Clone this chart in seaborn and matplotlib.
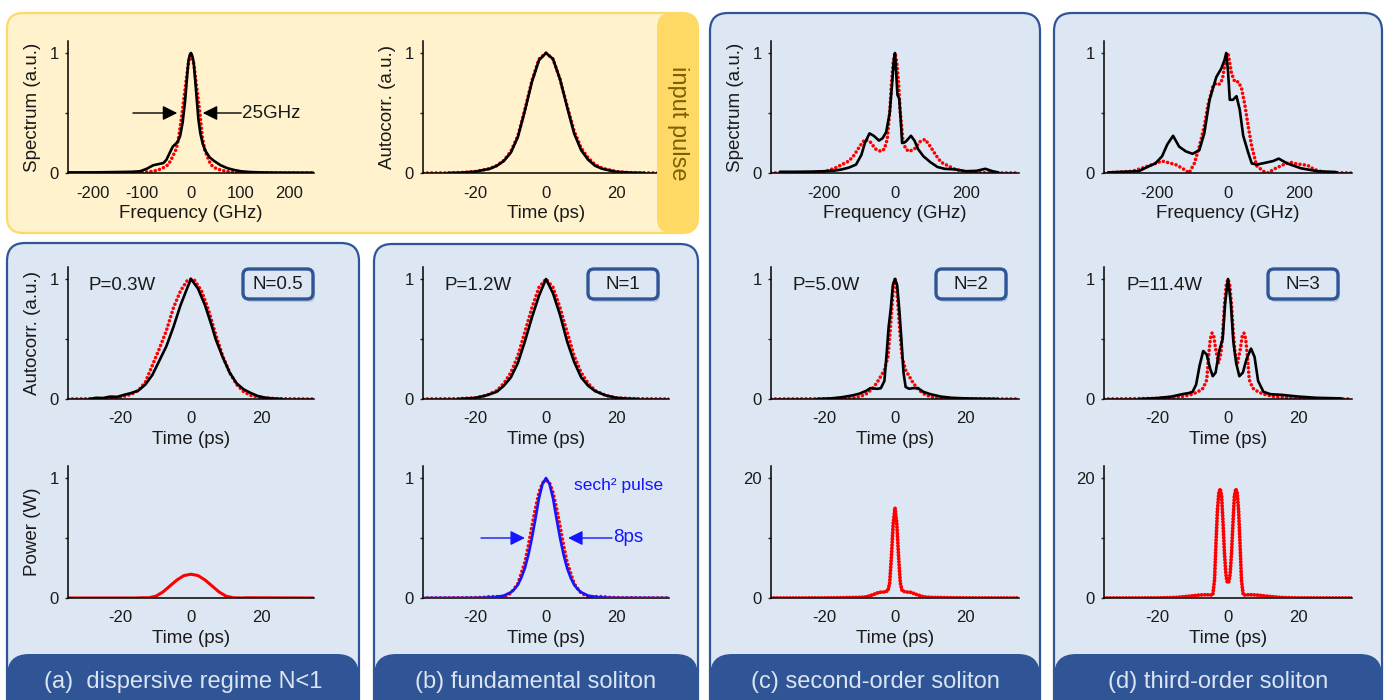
import matplotlib
matplotlib.use('Agg')
import matplotlib.pyplot as plt
from matplotlib.patches import FancyBboxPatch
import seaborn as sns

W, H = 1387, 700

# ---------------- data ----------------
# input pulse spectrum (GHz): measured (black) / simulated (red)
in_spec_f_exp = [-250, -200, -150, -120, -104, -90, -77, -65, -56, -50, -43, -37, -32, -27, -22, -17, -12, -8, -5, -2,
                 0, 3, 5.5, 9, 12, 15, 19, 24, 30, 38, 47, 60, 74, 88, 102, 120, 143, 180, 250]
in_spec_exp = [0.005, 0.005, 0.008, 0.01, 0.014, 0.035, 0.064, 0.075, 0.083, 0.11, 0.17, 0.22, 0.24, 0.26, 0.31, 0.42,
               0.6, 0.8, 0.94, 0.99, 1.0, 0.97, 0.92, 0.75, 0.6, 0.45, 0.33, 0.24, 0.18, 0.13, 0.1, 0.065, 0.04, 0.025,
               0.014, 0.008, 0.005, 0.003, 0.002]
in_spec_f_sim = [-250, -150, -100, -77, -60, -46, -38, -30, -25, -18, -12, -6, 0, 6, 12, 18, 23, 28, 33, 40, 50, 60, 74,
                 100, 150, 250]
in_spec_sim = [0, 0.001, 0.005, 0.014, 0.035, 0.07, 0.13, 0.2, 0.3, 0.5, 0.7, 0.9, 1.0, 0.9, 0.7, 0.5, 0.3, 0.19, 0.14,
               0.07, 0.04, 0.025, 0.012, 0.004, 0.001, 0]

# input pulse autocorrelation (ps)
in_ac_t_exp = [-28, -24, -20, -16, -14, -12, -10, -8, -6, -4, -2, 0, 2, 4, 6, 8, 10, 12, 14, 16, 20, 24, 28]
in_ac_exp = [0, 0.003, 0.012, 0.035, 0.06, 0.1, 0.17, 0.3, 0.52, 0.76, 0.94, 1.0, 0.95, 0.78, 0.55, 0.33, 0.19, 0.11,
             0.06, 0.035, 0.01, 0.003, 0]
in_ac_t_sim = [-35, -28, -24, -20, -16, -14, -12, -10, -8, -6, -4, -2, 0, 2, 4, 6, 8, 10, 12, 14, 16, 20, 24, 28, 35]
in_ac_sim = [0, 0.001, 0.004, 0.013, 0.037, 0.062, 0.105, 0.18, 0.31, 0.53, 0.77, 0.95, 1.0, 0.95, 0.78, 0.56, 0.35,
             0.21, 0.125, 0.07, 0.04, 0.012, 0.003, 0.001, 0]

# (a) N=0.5
a_ac_t_exp = [-29, -27, -25, -23, -21, -19, -17, -15, -13, -11, -9, -7, -5, -3, -1, 0, 1, 2, 4, 6, 7, 9, 11, 13, 15,
              17, 19, 21, 23, 26]
a_ac_exp = [0, 0.01, 0.008, 0.02, 0.018, 0.035, 0.05, 0.07, 0.12, 0.2, 0.32, 0.44, 0.6, 0.78, 0.93, 1.0, 0.96, 0.92,
            0.78, 0.6, 0.5, 0.35, 0.22, 0.13, 0.08, 0.05, 0.025, 0.012, 0.005, 0]
a_ac_t_sim = [-35, -25, -20, -17, -15, -13, -11, -9, -7, -5, -3, -1, 0, 1, 3, 5, 7, 9, 11, 13, 15, 17, 20, 25, 35]
a_ac_sim = [0, 0.003, 0.015, 0.04, 0.07, 0.14, 0.28, 0.42, 0.57, 0.76, 0.9, 0.99, 1.0, 0.99, 0.9, 0.74, 0.54, 0.36,
            0.22, 0.12, 0.06, 0.03, 0.01, 0.002, 0]
a_pw_t = [-35, -16, -14, -12, -10, -8, -6, -4, -2, 0, 2, 4, 6, 8, 10, 12, 14, 16, 35]
a_pw = [0, 0, 0.002, 0.002, 0.015, 0.05, 0.1, 0.15, 0.187, 0.198, 0.187, 0.15, 0.1, 0.05, 0.015, 0.002, 0, 0.002, 0]

# (b) N=1
b_ac_t_exp = [-25, -22, -20, -17, -14, -12, -10, -8, -6, -4, -2, 0, 2, 4, 6, 8, 10, 12, 14, 17, 20, 23, 26]
b_ac_exp = [0, 0.005, 0.01, 0.03, 0.06, 0.11, 0.18, 0.3, 0.48, 0.68, 0.86, 1.0, 0.88, 0.7, 0.48, 0.31, 0.18, 0.11,
            0.065, 0.03, 0.01, 0.003, 0]
b_ac_t_sim = [-35, -25, -20, -17, -14, -12, -10, -8, -6, -4, -2, 0, 2, 4, 6, 8, 10, 12, 14, 17, 20, 25, 35]
b_ac_sim = [0, 0.003, 0.01, 0.03, 0.07, 0.13, 0.22, 0.36, 0.56, 0.76, 0.93, 1.0, 0.93, 0.76, 0.56, 0.36, 0.22, 0.13,
            0.07, 0.03, 0.01, 0.003, 0]
b_pw_t_sech = [-35, -20, -15, -12, -10, -9, -8, -7, -6, -5, -4, -3, -2, -1, 0, 1, 2, 3, 4, 5, 6, 7, 8, 9, 10, 12, 15,
               20, 35]
b_pw_sech = [0, 0.001, 0.005, 0.02, 0.048, 0.073, 0.11, 0.17, 0.25, 0.36, 0.5, 0.66, 0.83, 0.95, 1.0, 0.95, 0.83, 0.66,
             0.5, 0.36, 0.25, 0.17, 0.11, 0.073, 0.048, 0.02, 0.005, 0.001, 0]
b_pw_t_sim = [-35, -22, -18, -16, -14, -12, -10, -8, -6, -5, -4, -3, -2, -1, 0, 1, 2, 3, 4, 5, 6, 8, 10, 12, 14, 16,
              18, 22, 35]
b_pw_sim = [0, 0.002, 0.005, 0.012, 0.012, 0.01, 0.04, 0.12, 0.3, 0.44, 0.6, 0.75, 0.88, 0.96, 0.98, 0.96, 0.88, 0.75,
            0.6, 0.44, 0.3, 0.12, 0.04, 0.01, 0.012, 0.012, 0.005, 0.002, 0]

# (c) N=2
c_spec_f_exp = [-325, -280, -230, -200, -170, -150, -130, -110, -95, -85, -72, -60, -45, -35, -25, -15, -8, -3, 0, 3,
                7, 12, 16, 20, 30, 45, 55, 65, 80, 100, 120, 140, 170, 200, 230, 255, 275, 292]
c_spec_exp = [0.01, 0.01, 0.012, 0.015, 0.02, 0.03, 0.045, 0.07, 0.15, 0.25, 0.33, 0.31, 0.27, 0.29, 0.34, 0.5, 0.75,
              0.95, 1.0, 0.85, 0.65, 0.62, 0.45, 0.25, 0.26, 0.31, 0.27, 0.2, 0.14, 0.09, 0.05, 0.035, 0.03, 0.015,
              0.018, 0.035, 0.015, 0.005]
c_spec_f_sim = [-350, -250, -200, -170, -150, -130, -115, -100, -85, -70, -55, -40, -30, -22, -15, -10, -5, 0, 5, 10,
                15, 22, 30, 40, 55, 70, 85, 100, 115, 130, 150, 170, 200, 250, 350]
c_spec_sim = [0, 0.002, 0.01, 0.04, 0.07, 0.1, 0.15, 0.22, 0.28, 0.26, 0.2, 0.18, 0.2, 0.28, 0.5, 0.75, 0.92, 1.0,
              0.92, 0.75, 0.5, 0.28, 0.2, 0.18, 0.2, 0.26, 0.28, 0.22, 0.15, 0.09, 0.06, 0.03, 0.01, 0.002, 0]
c_ac_t_exp = [-22, -18, -15, -12, -10, -8, -7, -5, -4, -3, -2.3, -1.8, -1.2, -0.6, 0, 0.6, 1.2, 1.8, 2.4, 3, 4, 5,
              6.5, 8, 10, 13, 16, 20, 25, 29]
c_ac_exp = [0, 0.005, 0.015, 0.03, 0.045, 0.07, 0.09, 0.085, 0.09, 0.15, 0.4, 0.6, 0.75, 0.95, 1.0, 0.95, 0.75, 0.5,
            0.22, 0.1, 0.085, 0.09, 0.09, 0.06, 0.04, 0.02, 0.01, 0.005, 0.002, 0]
c_ac_t_sim = [-35, -20, -14, -11, -9, -8, -7, -6, -5, -4, -3, -2, -1.4, -0.8, -0.3, 0, 0.3, 0.8, 1.4, 2, 3, 4, 5, 6, 7,
              8, 9, 11, 14, 20, 35]
c_ac_sim = [0, 0.002, 0.005, 0.012, 0.03, 0.045, 0.07, 0.1, 0.14, 0.19, 0.24, 0.35, 0.55, 0.8, 0.97, 1.0, 0.97, 0.8,
            0.55, 0.35, 0.24, 0.19, 0.14, 0.1, 0.07, 0.045, 0.03, 0.012, 0.005, 0.002, 0]
c_pw_t = [-35, -20, -15, -10, -8, -6, -4.5, -3, -2, -1.5, -1, -0.5, 0, 0.5, 1, 1.5, 2, 3, 4.5, 6, 8, 10, 15, 20, 35]
c_pw = [0, 0.02, 0.05, 0.1, 0.2, 0.6, 0.95, 1.0, 1.2, 2.5, 7, 12.5, 15.0, 12.5, 7, 2.5, 1.2, 1.0, 0.95, 0.6, 0.2, 0.1,
        0.05, 0.02, 0]

# (d) N=3
d_spec_f_exp = [-338, -252, -224, -205, -186, -171, -155, -138, -119, -100, -81, -67, -52, -33, -19, -10, -5, 0, 5, 14,
                24, 33, 43, 57, 67, 81, 105, 128, 143, 167, 205, 252, 305]
d_spec_exp = [0.005, 0.015, 0.055, 0.08, 0.14, 0.24, 0.31, 0.22, 0.18, 0.16, 0.19, 0.33, 0.61, 0.8, 0.87, 0.94, 1.0,
              0.85, 0.61, 0.61, 0.64, 0.53, 0.31, 0.17, 0.08, 0.07, 0.085, 0.1, 0.12, 0.08, 0.04, 0.015, 0.008]
d_spec_f_sim = [-350, -271, -243, -214, -186, -148, -129, -110, -95, -81, -67, -57, -43, -33, -24, -16, -5, 0, 10, 19,
                29, 38, 48, 57, 67, 81, 100, 114, 128, 157, 176, 195, 224, 243, 271, 350]
d_spec_sim = [0, 0.014, 0.04, 0.07, 0.1, 0.07, 0.04, 0.0, 0.08, 0.22, 0.39, 0.56, 0.72, 0.75, 0.74, 0.78, 0.97, 1.0,
              0.83, 0.76, 0.76, 0.71, 0.56, 0.39, 0.22, 0.06, 0.014, 0.0, 0.03, 0.07, 0.09, 0.075, 0.065, 0.03, 0.005,
              0]
d_ac_t_exp = [-25, -20, -16, -13, -11, -10, -9, -8, -7, -6, -5, -4.3, -3.5, -2.5, -1.5, -0.8, 0, 0.8, 1.5, 2.3, 3.2,
              4.2, 5.2, 6.5, 7.5, 8.5, 10, 12, 15, 20, 25, 32]
d_ac_exp = [0, 0.008, 0.02, 0.04, 0.05, 0.06, 0.12, 0.28, 0.4, 0.37, 0.25, 0.19, 0.22, 0.4, 0.5, 0.8, 1.0, 0.8, 0.48,
            0.3, 0.19, 0.22, 0.33, 0.42, 0.35, 0.15, 0.06, 0.04, 0.035, 0.02, 0.01, 0.005]
d_ac_t_sim = [-35, -20, -13, -10, -8.5, -7, -6, -5.5, -5, -4.5, -4, -3.5, -2.7, -2, -1.5, -1, -0.5, 0, 0.5, 1, 1.5, 2,
              2.7, 3.5, 4, 4.5, 5, 5.5, 6, 7, 8.5, 10, 13, 20, 35]
d_ac_sim = [0, 0.005, 0.02, 0.04, 0.06, 0.09, 0.16, 0.35, 0.5, 0.55, 0.52, 0.42, 0.3, 0.38, 0.55, 0.78, 0.95, 1.0,
            0.95, 0.78, 0.55, 0.38, 0.3, 0.42, 0.52, 0.55, 0.5, 0.35, 0.16, 0.09, 0.06, 0.04, 0.02, 0.005, 0]
d_pw_t = [-35, -20, -15, -11, -8, -6, -5, -4.3, -3.8, -3.4, -3, -2.6, -2.2, -1.8, -1.4, -1, -0.6, -0.3, 0, 0.3, 0.6, 1,
          1.4, 1.8, 2.2, 2.6, 3, 3.4, 3.8, 4.3, 5, 6, 8, 11, 15, 20, 35]
d_pw = [0, 0.02, 0.08, 0.3, 0.5, 0.55, 0.5, 0.5, 3, 9, 14.5, 17.5, 18.2, 17, 12.5, 7.5, 4, 2.8, 2.5, 2.8, 4, 7.5, 12.5,
        17, 18.2, 17.5, 14.5, 9, 3, 0.5, 0.5, 0.55, 0.5, 0.3, 0.08, 0.02, 0]

# ---------------- styling ----------------
sns.set_style('white')
plt.rcParams['font.family'] = ['Liberation Sans', 'DejaVu Sans']
plt.rcParams['axes.unicode_minus'] = False

BLUE_FILL = '#dde7f3'
BLUE_EDGE = '#2f5597'
BAR_TEXT = '#dbe5f2'
TXT = '#1a1a1a'

fig = plt.figure(figsize=(W / 100, H / 100), dpi=100)

bg = fig.add_axes([0, 0, 1, 1], zorder=0)
bg.set_xlim(0, W)
bg.set_ylim(H, 0)
bg.axis('off')


def rbox(ax, x0, y0, x1, y1, fc, ec='none', lw=0, r=18, z=1, **kw):
    p = FancyBboxPatch((x0, y0), x1 - x0, y1 - y0, boxstyle=f'round,pad=0,rounding_size={r}',
                       fc=fc, ec=ec, lw=lw, zorder=z, **kw)
    ax.add_patch(p)
    return p


# panel backgrounds
rbox(bg, 7, 13, 698, 233, '#fff2cc', '#ffd966', 1.6, r=16)
panels = [(7, 243, 359, '(a)  dispersive regime N<1'),
          (374, 244, 698, '(b) fundamental soliton'),
          (710, 13, 1040, '(c) second-order soliton'),
          (1054, 13, 1382, '(d) third-order soliton')]
for x0, y0, x1, lab in panels:
    rbox(bg, x0, y0, x1, 740, BLUE_FILL, BLUE_EDGE, 1.6, r=18)
    rbox(bg, x0, 654, x1, 740, BLUE_EDGE, r=22, z=2)
    bg.text((x0 + x1) / 2, 682, lab, color=BAR_TEXT, fontsize=17, ha='center', va='center', zorder=3)


def px_axes(x0, x1, y0, y1):
    ax = fig.add_axes([x0 / W, 1 - y1 / H, (x1 - x0) / W, (y1 - y0) / H], zorder=1)
    ax.set_facecolor('none')
    return ax


def style(ax, xlim, xticks, ylim, yticks, yticklabels, xlabel, ylabel=None):
    ax.set_xlim(*xlim)
    ax.set_ylim(*ylim)
    ax.set_xticks(xticks)
    ax.set_yticks(yticks)
    ax.set_yticklabels(yticklabels)
    sns.despine(ax=ax)
    for s in ['left', 'bottom']:
        ax.spines[s].set_color('black')
        ax.spines[s].set_linewidth(1.1)
    ax.tick_params(axis='x', length=0, pad=9, labelsize=12, labelcolor=TXT)
    ax.tick_params(axis='y', length=2.5, width=1, pad=4, labelsize=12, labelcolor=TXT, direction='out', left=True)
    ax.set_xlabel(xlabel, fontsize=13.5, labelpad=3, color=TXT)
    if ylabel:
        ax.set_ylabel(ylabel, fontsize=13.5, labelpad=6, color=TXT)
    else:
        ax.set_ylabel('')


def exp_line(ax, x, y, color='black'):
    sns.lineplot(x=x, y=y, ax=ax, color=color, lw=1.9, estimator=None, sort=False, zorder=3)


def sim_line(ax, x, y, lw=2.6, gap=1.2):
    sns.lineplot(x=x, y=y, ax=ax, color='#ff0000', lw=lw, linestyle=(0, (0.01, gap)),
                 dash_capstyle='round', estimator=None, sort=False, zorder=2)


ROW = {'spec': (41, 173), 'ac': (267, 399), 'pw': (466, 598)}
COL = {'a': (68, 314), 'b': (423, 669), 'c': (771, 1019), 'd': (1104, 1352)}
t_lim, t_ticks = (-35, 35), [-20, 0, 20]
u_lim, u_ticks, u_lab = (0, 1.1), [0, 0.5, 1], ['0', '', '1']

# ---- input pulse ----
ax = px_axes(*COL['a'], *ROW['spec'])
sim_line(ax, in_spec_f_sim, in_spec_sim)
exp_line(ax, in_spec_f_exp, in_spec_exp)
style(ax, (-250, 250), [-200, -100, 0, 100, 200], u_lim, u_ticks, u_lab, 'Frequency (GHz)', 'Spectrum (a.u.)')
arr = dict(arrowstyle='-|>', color='black', lw=1, mutation_scale=22, shrinkA=0, shrinkB=0)
ax.annotate('', xy=(-28, 0.5), xytext=(-118, 0.5), arrowprops=arr)
ax.annotate('', xy=(24, 0.5), xytext=(102, 0.5), arrowprops=arr)
ax.text(103, 0.5, '25GHz', fontsize=13.5, va='center', ha='left', color=TXT)

ax = px_axes(*COL['b'], *ROW['spec'])
sim_line(ax, in_ac_t_sim, in_ac_sim)
exp_line(ax, in_ac_t_exp, in_ac_exp)
style(ax, t_lim, t_ticks, u_lim, u_ticks, u_lab, 'Time (ps)', 'Autocorr. (a.u.)')

# ---- (a) ----
ax = px_axes(*COL['a'], *ROW['ac'])
sim_line(ax, a_ac_t_sim, a_ac_sim)
exp_line(ax, a_ac_t_exp, a_ac_exp)
style(ax, t_lim, t_ticks, u_lim, u_ticks, u_lab, 'Time (ps)', 'Autocorr. (a.u.)')

ax = px_axes(*COL['a'], *ROW['pw'])
sns.lineplot(x=a_pw_t, y=a_pw, ax=ax, color='#ff0000', lw=2.2, estimator=None, sort=False)
style(ax, t_lim, t_ticks, u_lim, u_ticks, u_lab, 'Time (ps)', 'Power (W)')

# ---- (b) ----
ax = px_axes(*COL['b'], *ROW['ac'])
sim_line(ax, b_ac_t_sim, b_ac_sim)
exp_line(ax, b_ac_t_exp, b_ac_exp)
style(ax, t_lim, t_ticks, u_lim, u_ticks, u_lab, 'Time (ps)')

ax = px_axes(*COL['b'], *ROW['pw'])
exp_line(ax, b_pw_t_sech, b_pw_sech, color='#1414ff')
sim_line(ax, b_pw_t_sim, b_pw_sim)
style(ax, t_lim, t_ticks, u_lim, u_ticks, u_lab, 'Time (ps)')
arr_b = dict(arr, color='#1414ff')
ax.annotate('', xy=(-6, 0.5), xytext=(-18.5, 0.5), arrowprops=arr_b)
ax.annotate('', xy=(6.3, 0.5), xytext=(18.8, 0.5), arrowprops=arr_b)
ax.text(19, 0.5, '8ps', fontsize=13.5, va='center', ha='left', color='#1414ff')
ax.text(8, 0.94, 'sech² pulse', fontsize=12.5, va='center', ha='left', color='#1414ff')

# ---- (c) ----
ax = px_axes(*COL['c'], *ROW['spec'])
sim_line(ax, c_spec_f_sim, c_spec_sim)
exp_line(ax, c_spec_f_exp, c_spec_exp)
style(ax, (-350, 350), [-200, 0, 200], u_lim, u_ticks, u_lab, 'Frequency (GHz)', 'Spectrum (a.u.)')

ax = px_axes(*COL['c'], *ROW['ac'])
sim_line(ax, c_ac_t_sim, c_ac_sim)
exp_line(ax, c_ac_t_exp, c_ac_exp)
style(ax, t_lim, t_ticks, u_lim, u_ticks, u_lab, 'Time (ps)')

ax = px_axes(*COL['c'], *ROW['pw'])
sim_line(ax, c_pw_t, c_pw, lw=2.8, gap=0.8)
style(ax, t_lim, t_ticks, (0, 22), [0, 10, 20], ['0', '', '20'], 'Time (ps)')

# ---- (d) ----
ax = px_axes(*COL['d'], *ROW['spec'])
sim_line(ax, d_spec_f_sim, d_spec_sim)
exp_line(ax, d_spec_f_exp, d_spec_exp)
style(ax, (-350, 350), [-200, 0, 200], u_lim, u_ticks, u_lab, 'Frequency (GHz)')

ax = px_axes(*COL['d'], *ROW['ac'])
sim_line(ax, d_ac_t_sim, d_ac_sim)
exp_line(ax, d_ac_t_exp, d_ac_exp)
style(ax, t_lim, t_ticks, u_lim, u_ticks, u_lab, 'Time (ps)')

ax = px_axes(*COL['d'], *ROW['pw'])
sim_line(ax, d_pw_t, d_pw, lw=2.8, gap=0.8)
style(ax, t_lim, t_ticks, (0, 22), [0, 10, 20], ['0', '', '20'], 'Time (ps)')

# ---------------- overlay: band, power labels, N boxes ----------------
ov = fig.add_axes([0, 0, 1, 1], zorder=5)
ov.set_xlim(0, W)
ov.set_ylim(H, 0)
ov.axis('off')
ov.patch.set_alpha(0)

rbox(ov, 657, 13, 698, 233, '#ffd966', r=14)
ov.text(678, 123, 'input pulse', rotation=270, fontsize=17, color='#7f6000', ha='center', va='center')

labels = [(89, 243, 'P=0.3W', 'N=0.5'), (444, 588, 'P=1.2W', 'N=1'),
          (793, 936, 'P=5.0W', 'N=2'), (1126, 1268, 'P=11.4W', 'N=3')]
for px, bx, ptxt, ntxt in labels:
    ov.text(px, 285, ptxt, fontsize=13.5, ha='left', va='center', color=TXT)
    rbox(ov, bx + 2, 272, bx + 72, 302, '#9aa8bf', r=6, z=1, alpha=0.5)
    rbox(ov, bx, 269, bx + 70, 299, BLUE_FILL, BLUE_EDGE, 2.4, r=6, z=2)
    ov.text(bx + 35, 284.5, ntxt, fontsize=13.5, ha='center', va='center', color=TXT, zorder=3)

fig.savefig('out.png', dpi=100)
